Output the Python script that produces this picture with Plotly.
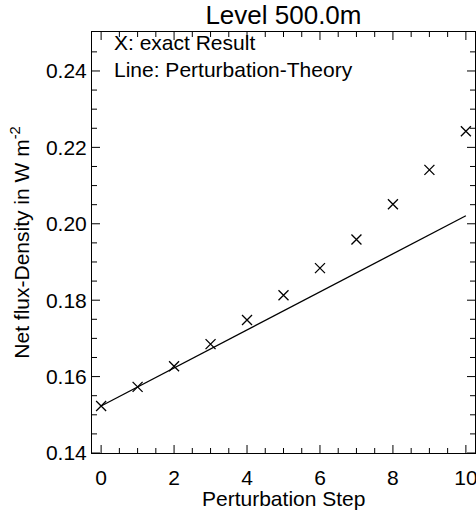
import plotly.graph_objects as go

steps = [0, 1, 2, 3, 4, 5, 6, 7, 8, 9, 10]
exact = [0.1523, 0.1573, 0.1627, 0.1685, 0.1748, 0.1813, 0.1884, 0.1959, 0.2051, 0.2141, 0.2242]
theory_x = [0, 10]
theory_y = [0.1523, 0.2021]

x_major = [0, 2, 4, 6, 8, 10]
x_minor = [i * 0.5 for i in range(21) if i % 4 != 0]
y_major = [0.14, 0.16, 0.18, 0.20, 0.22, 0.24]
y_minor = [round(0.14 + i * 0.005, 3) for i in range(22) if i % 4 != 0]

FONT = "Liberation Sans, Arial, sans-serif"
FS = 21
XR = [-0.25, 10.25]
YR = [0.14, 0.2502]
W, H = 476, 514
ML, MR, MT, MB = 92, 1, 32, 61
PW, PH = W - ML - MR, H - MT - MB
MAJ, MIN = 8, 5  # tick lengths in pixels

# tick lengths converted to data units through the axis ranges
dx = (XR[1] - XR[0]) / PW
dy = (YR[1] - YR[0]) / PH

tx, ty = [], []
for vals, ln in [(x_major, MAJ), (x_minor, MIN)]:
    for v in vals:
        tx += [v, v, None, v, v, None]
        ty += [YR[0], YR[0] + ln * dy, None, YR[1], YR[1] - ln * dy, None]
for vals, ln in [(y_major, MAJ), (y_minor, MIN)]:
    for v in vals:
        tx += [XR[0], XR[0] + ln * dx, None, XR[1], XR[1] - ln * dx, None]
        ty += [v, v, None, v, v, None]

fig = go.Figure()
fig.add_trace(go.Scatter(x=tx, y=ty, mode="lines", line=dict(color="black", width=1),
                         showlegend=False, hoverinfo="skip", connectgaps=False))
fig.add_trace(go.Scatter(x=theory_x, y=theory_y, mode="lines",
                         line=dict(color="black", width=1.3), showlegend=False))
fig.add_trace(go.Scatter(x=steps, y=exact, mode="markers",
                         marker=dict(symbol="x-thin", size=10, line=dict(color="black", width=1.3)),
                         showlegend=False, cliponaxis=False))

fig.update_layout(
    xaxis=dict(range=XR, tickmode="array", tickvals=x_major,
               showline=True, linecolor="black", linewidth=1, mirror=True,
               ticks="", showgrid=False, zeroline=False, ticklabeloverflow="allow",
               ticklabelstandoff=6, automargin=False,
               tickfont=dict(family=FONT, size=FS, color="black")),
    yaxis=dict(range=YR, tickmode="array", tickvals=y_major, tickformat=".2f",
               showline=True, linecolor="black", linewidth=1, mirror=True,
               ticks="", showgrid=False, zeroline=False, automargin=False,
               tickfont=dict(family=FONT, size=FS, color="black"),
               title=dict(text="Net flux-Density in W m<sup>-2</sup>",
                          font=dict(family=FONT, size=FS, color="black"), standoff=10)),
)

fig.add_annotation(text="Perturbation Step", xref="paper", yref="paper", x=0.5, y=-0.107,
                   xanchor="center", yanchor="middle", showarrow=False,
                   font=dict(family=FONT, size=FS, color="black"))
fig.add_annotation(text="X: exact Result", xref="paper", yref="paper", x=0.052, y=0.974,
                   xanchor="left", yanchor="middle", showarrow=False,
                   font=dict(family=FONT, size=FS, color="black"))
fig.add_annotation(text="Line: Perturbation-Theory", xref="paper", yref="paper", x=0.052, y=0.912,
                   xanchor="left", yanchor="middle", showarrow=False,
                   font=dict(family=FONT, size=FS, color="black"))

fig.update_layout(
    width=W, height=H,
    margin=dict(l=ML, r=MR, t=MT, b=MB, autoexpand=False),
    paper_bgcolor="white", plot_bgcolor="white",
    title=dict(text="Level 500.0m", x=0.5955, xanchor="center", y=0.972, yanchor="middle",
               font=dict(family=FONT, size=26, color="black")),
)

fig.write_html("out.html")
